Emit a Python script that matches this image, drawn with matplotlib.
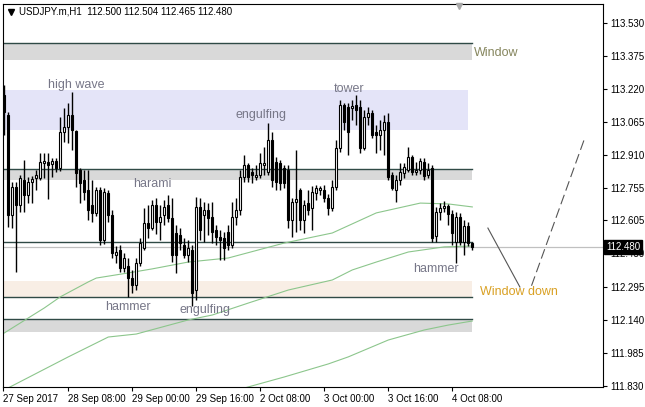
import matplotlib
matplotlib.use('Agg')
import matplotlib.pyplot as plt
import numpy as np

plt.rcParams['font.family'] = ['Liberation Sans', 'DejaVu Sans']

symbol_title = "USDJPY.m,H1  112.500 112.504 112.465 112.480"
last_price = 112.480

opens = [113.192, 113.098, 112.630, 112.761, 112.677, 112.794, 112.724, 112.785, 112.803, 112.803,
         112.874, 112.878, 112.869, 112.883, 112.850, 113.019, 113.042, 113.098, 113.023, 112.841,
         112.794, 112.747, 112.677, 112.640, 112.747, 112.513, 112.733, 112.630, 112.443, 112.466,
         112.382, 112.392, 112.335, 112.303, 112.406, 112.476, 112.593, 112.569, 112.677, 112.598,
         112.630, 112.677, 112.616, 112.546, 112.537, 112.490, 112.443, 112.466, 112.279, 112.668,
         112.630, 112.654, 112.621, 112.560, 112.527, 112.523, 112.551, 112.490, 112.621, 112.654,
         112.808, 112.864, 112.832, 112.808, 112.817, 112.864, 112.832, 112.981, 112.878, 112.874,
         112.850, 112.841, 112.607, 112.691, 112.747, 112.607, 112.686, 112.663, 112.733, 112.747,
         112.747, 112.710, 112.663, 112.761, 112.944, 113.145, 113.136, 113.131, 113.145, 113.136,
         112.944, 113.089, 113.108, 113.019, 113.005, 113.028, 113.066, 112.817, 112.747, 112.794,
         112.827, 112.841, 112.902, 112.832, 112.841, 112.878, 112.817, 112.850, 112.532, 112.644,
         112.663, 112.672, 112.635, 112.504, 112.621, 112.504, 112.579, 112.500]
highs = [113.239, 113.112, 112.785, 112.785, 112.817, 112.888, 112.808, 112.813, 112.841, 112.920,
         112.920, 112.920, 112.897, 112.897, 113.089, 113.131, 113.154, 113.206, 113.028, 112.850,
         112.841, 112.841, 112.794, 112.761, 112.761, 112.757, 112.747, 112.654, 112.485, 112.490,
         112.452, 112.429, 112.373, 112.429, 112.523, 112.663, 112.677, 112.700, 112.710, 112.677,
         112.700, 112.724, 112.710, 112.583, 112.569, 112.523, 112.513, 112.490, 112.715, 112.710,
         112.691, 112.686, 112.691, 112.583, 112.560, 112.551, 112.583, 112.691, 112.710, 112.841,
         112.911, 112.874, 112.850, 112.864, 112.920, 112.948, 113.061, 113.019, 112.902, 112.888,
         112.864, 112.864, 112.710, 112.934, 112.757, 112.700, 112.747, 112.766, 112.771, 112.766,
         112.771, 112.729, 112.794, 112.981, 113.168, 113.154, 113.154, 113.168, 113.192, 113.168,
         113.122, 113.136, 113.122, 113.051, 113.075, 113.098, 113.108, 112.832, 112.817, 112.874,
         112.874, 112.948, 112.911, 112.878, 112.897, 112.897, 112.874, 112.864, 112.668, 112.686,
         112.696, 112.682, 112.654, 112.644, 112.640, 112.607, 112.598, 112.504]
lows = [113.005, 112.574, 112.569, 112.364, 112.644, 112.644, 112.686, 112.686, 112.747, 112.794,
        112.803, 112.705, 112.808, 112.832, 112.836, 112.972, 112.967, 112.934, 112.761, 112.686,
        112.700, 112.607, 112.598, 112.626, 112.490, 112.495, 112.598, 112.429, 112.406, 112.364,
        112.364, 112.247, 112.265, 112.279, 112.392, 112.466, 112.523, 112.560, 112.541, 112.513,
        112.583, 112.598, 112.410, 112.359, 112.466, 112.429, 112.410, 112.204, 112.232, 112.513,
        112.504, 112.537, 112.499, 112.490, 112.420, 112.420, 112.466, 112.476, 112.583, 112.630,
        112.785, 112.785, 112.780, 112.794, 112.803, 112.817, 112.817, 112.761, 112.747, 112.747,
        112.757, 112.570, 112.527, 112.551, 112.560, 112.546, 112.630, 112.560, 112.700, 112.724,
        112.691, 112.630, 112.649, 112.747, 112.925, 113.028, 112.911, 113.075, 113.051, 112.920,
        112.934, 113.051, 112.990, 112.920, 112.934, 112.911, 112.794, 112.747, 112.691, 112.771,
        112.803, 112.832, 112.817, 112.817, 112.822, 112.794, 112.803, 112.504, 112.504, 112.607,
        112.644, 112.583, 112.490, 112.406, 112.490, 112.443, 112.485, 112.465]
closes = [113.112, 112.630, 112.761, 112.677, 112.803, 112.724, 112.785, 112.799, 112.817, 112.878,
          112.883, 112.864, 112.883, 112.850, 113.019, 113.042, 113.098, 113.028, 112.827, 112.780,
          112.738, 112.654, 112.640, 112.747, 112.513, 112.738, 112.630, 112.452, 112.457, 112.382,
          112.429, 112.335, 112.303, 112.406, 112.499, 112.593, 112.569, 112.677, 112.598, 112.621,
          112.668, 112.616, 112.443, 112.443, 112.499, 112.443, 112.476, 112.265, 112.668, 112.560,
          112.654, 112.616, 112.551, 112.527, 112.513, 112.476, 112.490, 112.621, 112.654, 112.808,
          112.864, 112.808, 112.817, 112.817, 112.874, 112.874, 112.981, 112.794, 112.785, 112.780,
          112.780, 112.607, 112.691, 112.705, 112.607, 112.677, 112.654, 112.738, 112.757, 112.757,
          112.710, 112.663, 112.761, 112.944, 113.145, 113.066, 113.019, 113.140, 113.122, 112.944,
          113.089, 113.108, 113.005, 113.005, 113.028, 113.066, 112.808, 112.757, 112.794, 112.832,
          112.855, 112.902, 112.832, 112.841, 112.883, 112.813, 112.841, 112.523, 112.644, 112.663,
          112.672, 112.635, 112.546, 112.621, 112.504, 112.579, 112.499, 112.480]

# moving averages, read at sampled bars
ma_a_bars = [0, 10, 14, 21, 23, 31, 37, 46, 56, 70, 82, 93, 104, 111, 117]
ma_a = [112.078, 112.195, 112.247, 112.317, 112.335, 112.359, 112.378, 112.410, 112.429,
        112.499, 112.546, 112.640, 112.686, 112.682, 112.668]
ma_b_bars = [1, 16, 26, 33, 46, 52, 61, 71, 82, 87, 93, 101, 110, 117]
ma_b = [111.821, 111.966, 112.059, 112.073, 112.139, 112.162, 112.218, 112.279, 112.326,
        112.373, 112.410, 112.457, 112.481, 112.485]
ma_c_bars = [59, 70, 81, 86, 96, 105, 111, 117]
ma_c = [111.815, 111.872, 111.933, 111.966, 112.045, 112.092, 112.115, 112.134]

# zones
zone_lo = [113.357, 113.029, 112.795, 112.245, 112.084]
zone_hi = [113.434, 113.216, 112.845, 112.323, 112.142]
zone_end = [116.9, 115.9, 116.9, 116.9, 116.9]
zone_colors = ['#d9d9d9', '#e4e4f8', '#d9d9d9', '#f8eee5', '#d9d9d9']
level_lines = [113.434, 112.845, 112.503, 112.245, 112.142]

# projection
proj1_x = [120.9, 128.9]
proj1_y = [112.569, 112.293]
proj2_x = [131.8, 145.2]
proj2_y = [112.299, 112.995]

labels = ['high wave', 'harami', 'engulfing', 'tower', 'hammer', 'engulfing', 'hammer']
label_x = [17.9, 36.9, 64.2, 86.2, 30.9, 50.2, 107.9]
label_y = [113.239, 112.775, 113.098, 113.220, 112.200, 112.186, 112.378]

xtick_pos = [-0.3, 16, 32, 48, 64, 80, 96, 112]
xtick_labels = ['27 Sep 2017', '28 Sep 08:00', '29 Sep 00:00', '29 Sep 16:00',
                '2 Oct 08:00', '3 Oct 00:00', '3 Oct 16:00', '4 Oct 08:00']
ytick_vals = [111.830, 111.985, 112.140, 112.295, 112.450, 112.605, 112.755,
              112.910, 113.065, 113.220, 113.375, 113.530]

W, H = 645, 407
fig = plt.figure(figsize=(W / 100, H / 100), dpi=100)
ax = fig.add_axes([3 / W, 20 / H, 600 / W, 383 / H])
ax.set_xlim(-0.325, 149.675)
ax.set_ylim(111.825, 113.618)

x0 = -0.325
for lo, hi, xe, col in zip(zone_lo, zone_hi, zone_end, zone_colors):
    ax.fill_between([x0, xe], lo, hi, color=col, lw=0, zorder=1)
for lv in level_lines:
    ax.plot([x0, 116.9], [lv, lv], color='#2f4a46', lw=1.0, zorder=2)
ax.axhline(last_price, color='#c0c0c0', lw=0.9, zorder=2)

green = '#8cc68c'
for bx, by in [(ma_a_bars, ma_a), (ma_b_bars, ma_b), (ma_c_bars, ma_c)]:
    ax.plot(bx, by, color=green, lw=0.8, zorder=2.5)

idx = np.arange(len(opens))
o = np.array(opens); h = np.array(highs); l = np.array(lows); c = np.array(closes)
ax.vlines(idx, l, h, color='black', lw=1.0, zorder=3)
bottoms = np.minimum(o, c)
heights = np.maximum(np.abs(c - o), 0.001)
fc = ['white' if cc > oo else 'black' for oo, cc in zip(o, c)]
ax.bar(idx, heights, bottom=bottoms, width=0.5, color=fc, edgecolor='black',
       linewidth=0.8, zorder=4)

ax.plot(proj1_x, proj1_y, color='#555555', lw=0.8, zorder=3)
ax.plot(proj2_x, proj2_y, color='#555555', lw=0.8, zorder=3, dashes=(9, 4))

for t, xx, yy in zip(labels, label_x, label_y):
    ax.text(xx, yy, t, ha='center', va='center', fontsize=9, color='#777788', zorder=5)
ax.text(117.4, 113.388, 'Window', ha='left', va='center', fontsize=9, color='#86865e', zorder=5)
ax.text(118.9, 112.270, 'Window down', ha='left', va='center', fontsize=9, color='#d9a023', zorder=5)

for s in ax.spines.values():
    s.set_color('black')
    s.set_linewidth(0.8)

ax.yaxis.tick_right()
ax.set_yticks(ytick_vals)
ax.set_yticklabels(['%.3f' % v for v in ytick_vals])
ax.tick_params(axis='y', direction='out', length=3, width=0.8, pad=2, labelsize=7, colors='black')
ax.set_xticks(xtick_pos)
ax.set_xticklabels(xtick_labels)
for lab in ax.get_xticklabels():
    lab.set_horizontalalignment('left')
ax.tick_params(axis='x', direction='out', length=3, width=0.8, pad=2, labelsize=7, colors='black')

# title and markers
fig.text(19 / W, 1 - 12 / H, symbol_title, ha='left', va='center', fontsize=7, color='black')
fig.lines.append(plt.Line2D([11 / W], [1 - 11.5 / H], marker='v', markersize=4.5,
                            color='black', transform=fig.transFigure))
fig.lines.append(plt.Line2D([459 / W], [1 - 6 / H], marker='v', markersize=5,
                            color='#a8a8a8', transform=fig.transFigure))
fig.text(606 / W, 20 / H + (last_price - 111.825) / (113.618 - 111.825) * 383 / H,
         '%.3f' % last_price, ha='left', va='center', fontsize=7, color='white',
         bbox=dict(boxstyle='square,pad=0.22', facecolor='black', edgecolor='black'), zorder=10)

fig.savefig('out.png', dpi=100, facecolor='white')
